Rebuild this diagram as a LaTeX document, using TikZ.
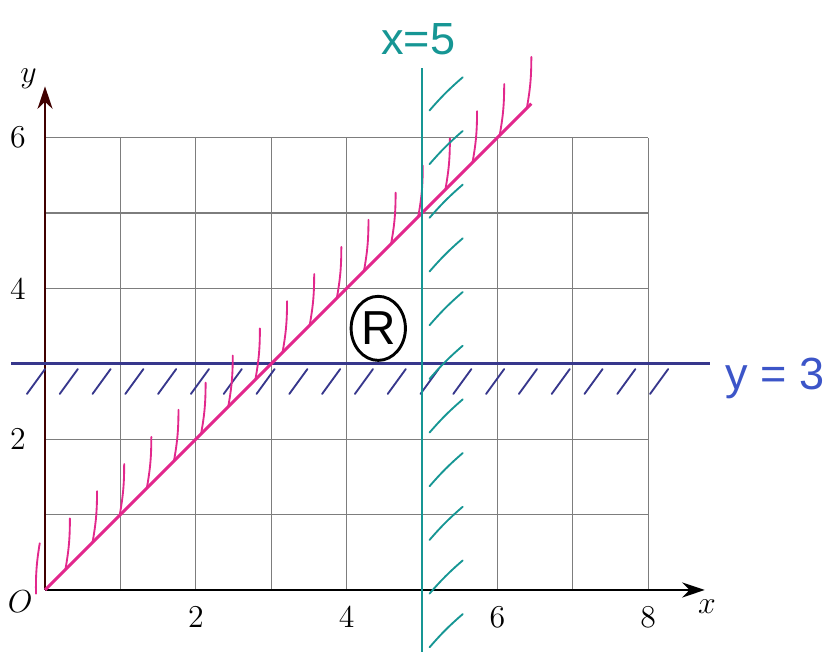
\documentclass[tikz,border=0pt]{standalone}
\usepackage{fontspec}
\usetikzlibrary{arrows.meta,shapes.geometric}
\newfontfamily\handfont{Liberation Sans}
\definecolor{penpink}{RGB}{226,40,140}
\definecolor{penteal}{RGB}{22,150,148}
\definecolor{penblue}{RGB}{55,55,140}
\definecolor{labelblue}{RGB}{60,85,200}
\definecolor{gridgray}{RGB}{125,125,125}
\begin{document}
\begin{tikzpicture}[
  gridline/.style={gridgray, line width=0.5pt},
  axisline/.style={line width=0.8pt, -{Stealth[length=3mm,width=2mm]}},
  pinkpen/.style={penpink, line width=1.1pt},
  tealpen/.style={penteal, line width=1.1pt},
  bluepen/.style={penblue, line width=1pt},
  hatch/.style={line width=0.7pt, line cap=round},
  handlabel/.style={font=\handfont\fontsize{17}{20}\selectfont}
]
\useasboundingbox (-0.597,-0.822) rectangle (10.358,7.825);

% grid and axes
\draw[gridline] (0,0) grid (8,6);
\draw[axisline] (0,0) -- (8.75,0);
\draw[axisline, black!75!red] (0,0) -- (0,6.68);

\node (o) at (-0.33,-0.15) {\large$O$};
\node (xl) at (8.78,-0.22) {\large$x$};
\node (yl) at (-0.22,6.78) {\large$y$};
\foreach \v in {2,4,6,8}
  \node (tx\v) at (\v,-0.36) {\large\v};
\foreach \v in {2,4,6}
  \node (ty\v) at (-0.36,\v) {\large\v};

% y = 3
\foreach \k in {0,...,19}
  \draw[hatch, penblue] (-0.24+0.435*\k,2.6) -- ++(0.24,0.33);
\draw[bluepen] (-0.45,3) -- (8.82,3);
\node[handlabel, labelblue] (ylab) at (9.68,2.8) {y = 3};

% y = x
\draw[hatch, penpink] (-0.12,-0.05) to[bend left=5] (-0.07,0.62);
\foreach \k in {0,...,17}
  \draw[hatch, penpink] (0.27+0.36*\k,0.27+0.36*\k) to[bend right=5] ++(0.06,0.68);
\draw[pinkpen] (0,0) -- (6.45,6.45);

% x = 5
\foreach \k in {0,...,10}
  \draw[hatch, penteal] (5.1,-0.76+0.712*\k) to[bend left=4] ++(0.44,0.44);
\draw[tealpen] (5,-0.82) -- (5,6.92);
\node[handlabel, penteal] (xlab) at (4.95,7.3) {x=5};

% region
\node[draw, ellipse, line width=1.1pt, minimum width=0.72cm, minimum height=0.85cm,
      inner sep=0pt, font=\handfont\fontsize{18}{20}\selectfont] (reg) at (4.42,3.47) {R};
\end{tikzpicture}
\end{document}
